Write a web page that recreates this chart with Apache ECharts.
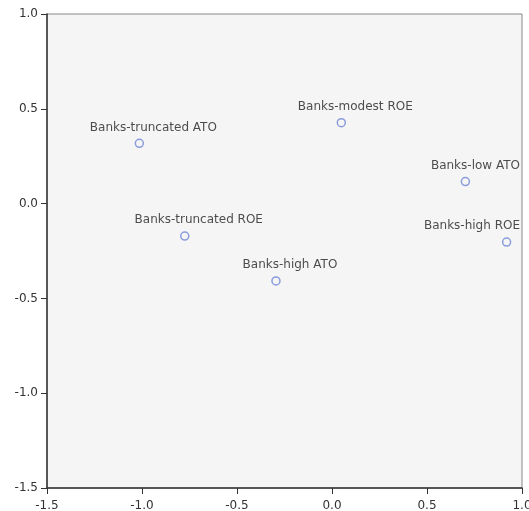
<!DOCTYPE html>
<html>
<head>
<meta charset="utf-8">
<script src="https://cdn.jsdelivr.net/npm/echarts@6/dist/echarts.min.js"></script>
<style>
  html, body { margin: 0; padding: 0; background: #fff; overflow: hidden; }
  #chart { width: 529px; height: 511px; }
</style>
</head>
<body>
<div id="chart"></div>
<script>
  var names = ["Banks-truncated ATO", "Banks-modest ROE", "Banks-truncated ROE",
               "Banks-high ATO", "Banks-low ATO", "Banks-high ROE"];
  var xVals = [-1.014, 0.049, -0.775, -0.295, 0.702, 0.919];
  var yVals = [0.318, 0.427, -0.171, -0.408, 0.116, -0.203];

  var points = [];
  for (var i = 0; i < names.length; i++) {
    points.push({ name: names[i], value: [xVals[i], yVals[i]] });
  }

  var gridRight = 7;
  var chart = echarts.init(document.getElementById("chart"));
  var axisText = { color: "#333", fontSize: 12, fontFamily: "DejaVu Sans" };

  chart.setOption({
    animation: false,
    grid: {
      left: 47, top: 14, right: gridRight, bottom: 23,
      outerBoundsMode: "none",
      containLabel: false,
      show: true,
      backgroundColor: "#f5f5f5",
      borderColor: "#888",
      borderWidth: 1
    },
    xAxis: {
      type: "value",
      min: -1.5, max: 1.0, interval: 0.5,
      splitLine: { show: false },
      axisLine: { show: true, onZero: false, lineStyle: { color: "#333", width: 1.5 } },
      axisTick: { show: true, length: 6, lineStyle: { color: "#333" } },
      axisLabel: Object.assign({ margin: 12, formatter: function(v) { return v.toFixed(1); } }, axisText)
    },
    yAxis: {
      type: "value",
      min: -1.5, max: 1.0, interval: 0.5,
      splitLine: { show: false },
      axisLine: { show: true, onZero: false, lineStyle: { color: "#333", width: 1.5 } },
      axisTick: { show: true, length: 6, lineStyle: { color: "#333" } },
      axisLabel: Object.assign({ margin: 9, padding: [4, 0, 0, 0], formatter: function(v) { return v.toFixed(1); } }, axisText)
    },
    series: [{
      type: "scatter",
      data: points,
      symbol: "circle",
      symbolSize: 8,
      itemStyle: { color: "#f5f5f5", borderColor: "#6f86d6", borderWidth: 1.5 },
      label: {
        show: true,
        position: "top",
        distance: 5,
        formatter: "{b}",
        color: "#222",
        fontSize: 12,
        fontFamily: "DejaVu Sans"
      },
      labelLayout: function(params) {
        var r = params.labelRect;
        var limit = chart.getWidth() - gridRight - 2;
        var left = Math.min(r.x + 14, limit - r.width);
        return { x: left, y: r.y, align: "left", verticalAlign: "top" };
      }
    }]
  });
</script>
</body>
</html>
